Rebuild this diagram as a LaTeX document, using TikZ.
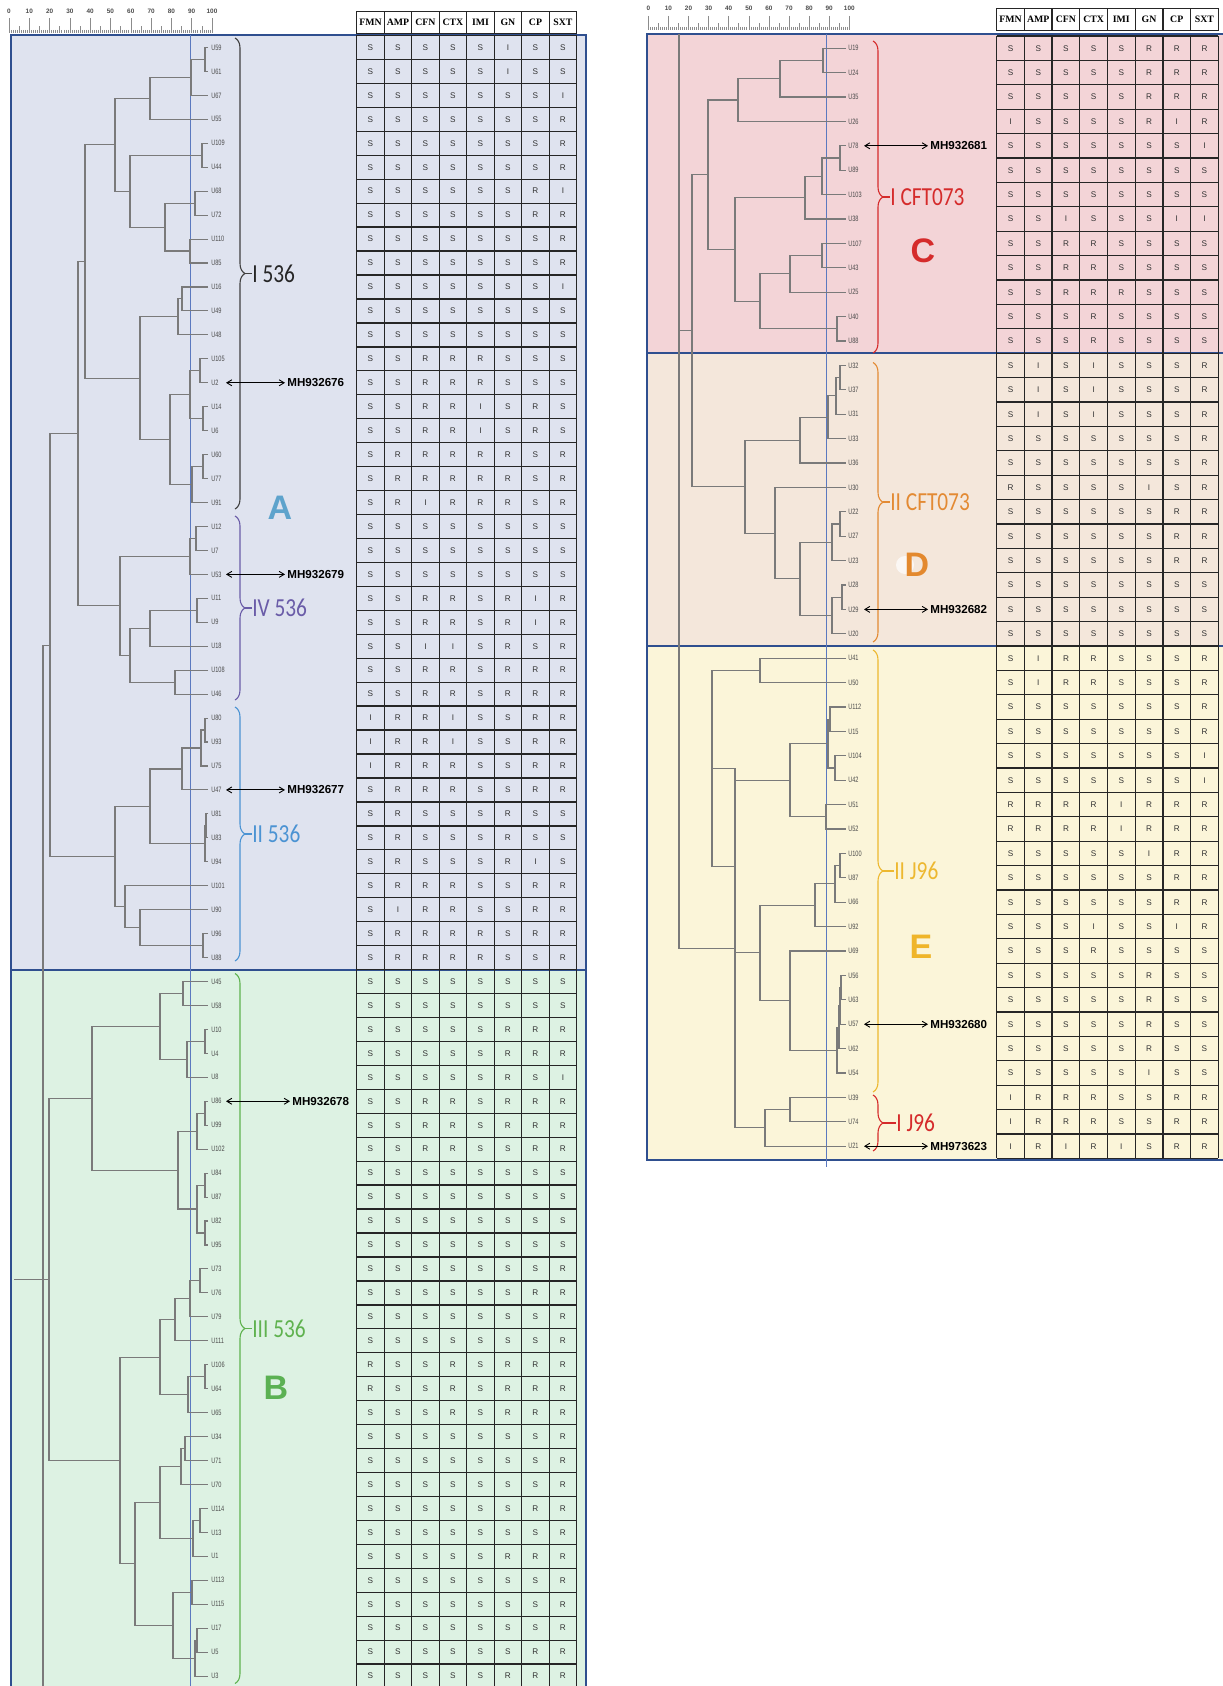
\documentclass[tikz,border=0pt]{standalone}
\usepackage{fontspec}
\setmainfont{Liberation Serif}
\setsansfont{Liberation Sans}
\newfontfamily\calib{Carlito}
\usetikzlibrary{decorations.pathreplacing,arrows.meta,calc}
\definecolor{bgA}{HTML}{DFE3EF}
\definecolor{bgB}{HTML}{DDF2E3}
\definecolor{bgC}{HTML}{F3D4D7}
\definecolor{bgD}{HTML}{F4E7DB}
\definecolor{bgE}{HTML}{FBF5D9}
\definecolor{frame}{HTML}{2F4F8F}
\definecolor{vline}{HTML}{5B79BF}
\definecolor{dgray}{HTML}{7A7A7A}
\definecolor{cA}{HTML}{5EA3CC}
\definecolor{cB}{HTML}{5BB153}
\definecolor{cC}{HTML}{D52B2B}
\definecolor{cD}{HTML}{E3892E}
\definecolor{cE}{HTML}{EFB52A}
\definecolor{cIV}{HTML}{6A5CA8}
\definecolor{cII}{HTML}{4B93D3}
\definecolor{cIII}{HTML}{5FB24F}
\definecolor{cIIc}{HTML}{E38A33}
\definecolor{cIIj}{HTML}{EDB830}
\newcommand\tabx{0}\newcommand\taby{0}\newcommand\tabn{}\newcommand\cw{27.5}
\newcommand\trow[4]{\def\tabx{#1}\def\taby{#2}\def\tabn{#3}\expandafter\tcells#4}
\newcommand\tcells[8]{%
 \node[tcell] (\tabn-1) at ({\tabx+0.5*\cw},\taby) {#1};
 \node[tcell] (\tabn-2) at ({\tabx+1.5*\cw},\taby) {#2};
 \node[tcell] (\tabn-3) at ({\tabx+2.5*\cw},\taby) {#3};
 \node[tcell] (\tabn-4) at ({\tabx+3.5*\cw},\taby) {#4};
 \node[tcell] (\tabn-5) at ({\tabx+4.5*\cw},\taby) {#5};
 \node[tcell] (\tabn-6) at ({\tabx+5.5*\cw},\taby) {#6};
 \node[tcell] (\tabn-7) at ({\tabx+6.5*\cw},\taby) {#7};
 \node[tcell] (\tabn-8) at ({\tabx+7.5*\cw},\taby) {#8};}
\newcommand\jn[4]{\path let \p1=(#3), \p2=(#4) in coordinate (#1) at ({0.5pt*#2},{0.5*\y1+0.5*\y2});
 \draw[dend] (#3) -| (#1) |- (#4);}
\begin{document}
\begin{tikzpicture}[x=0.5pt,y=-0.5pt,
 tcell/.style={font=\sffamily\fontsize{4.1}{5}\selectfont, text=black!80, inner sep=0},
 hdr/.style={font=\bfseries\fontsize{4.9}{5}\selectfont, inner sep=0},
 tgrid/.style={line width=0.65pt, draw=black!85},
 panel/.style={line width=1pt, draw=frame},
 dend/.style={line width=0.55pt, draw=dgray},
 leafl/.style={font=\sffamily\fontsize{3.9}{4.5}\selectfont, text=black!70, anchor=west, inner sep=0, xscale=0.72},
 mh/.style={font=\sffamily\bfseries\fontsize{5.8}{6}\selectfont, anchor=west, inner sep=1pt},
 dbl/.style={{Straight Barb[length=2.5pt,width=3pt]}-{Straight Barb[length=2.5pt,width=3pt]}, line width=0.45pt},
 cbrace/.style={decorate, decoration={brace, amplitude=5pt}, draw=#1, line width=0.55pt},
 blab/.style={font=\calib\fontsize{13}{15}\selectfont, anchor=west, inner sep=0, xscale=0.82},
 bigl/.style={font=\sffamily\bfseries\fontsize{17}{20}\selectfont, inner sep=0},
 stick/.style={line width=0.3pt, draw=black!45},
 sclab/.style={font=\sffamily\bfseries\fontsize{3.2}{4}\selectfont, text=black!70, inner sep=0},
 vl/.style={line width=0.5pt, draw=vline}]
\useasboundingbox (0,0) rectangle (1222,1686);
\fill[white] (0,0) rectangle (1222,1686);
% panels
\draw[panel, fill=bgA] (11,35) rectangle (586,969.6);
\draw[panel, fill=bgB] (11,969.6) rectangle (586,1692);
\draw[panel, fill=bgC] (647,34.5) rectangle (1225,353.2);
\draw[panel, fill=bgD] (647,353.2) rectangle (1225,646);
\draw[panel, fill=bgE] (647,646) rectangle (1225,1159.5);
% scale bars
\foreach \k in {0,...,100} \draw[stick] ({9+2.03*\k},30) -- ({9+2.03*\k},33);
\foreach \k in {0,5,...,100} \draw[stick] ({9+2.03*\k},26.5) -- ({9+2.03*\k},33);
\foreach \k [count=\j] in {0,10,...,100} {\draw[stick] ({9+2.03*\k},18.5) -- ({9+2.03*\k},33);
  \node[sclab] (sl\j) at ({9+2.03*\k},11) {\k};}
\foreach \k in {0,...,100} \draw[stick] ({648.3+2.01*\k},27) -- ({648.3+2.01*\k},30);
\foreach \k in {0,5,...,100} \draw[stick] ({648.3+2.01*\k},23.5) -- ({648.3+2.01*\k},30);
\foreach \k [count=\j] in {0,10,...,100} {\draw[stick] ({648.3+2.01*\k},16) -- ({648.3+2.01*\k},30);
  \node[sclab] (sr\j) at ({648.3+2.01*\k},8.6) {\k};}
% left table header
\draw[tgrid, fill=white] (356.7,11.7) rectangle (576.7,33.3);
\foreach \k in {1,...,7} \draw[tgrid] ({356.7+27.5*\k},11.7) -- ({356.7+27.5*\k},33.3);
\foreach \h [count=\k] in {FMN,AMP,CFN,CTX,IMI,GN,CP,SXT}
  \node[hdr] (hl\k) at ({356.7+27.5*(\k-0.5)},22.5) {\h};
% right table header
\draw[tgrid, fill=white] (996.7,8.3) rectangle (1218.3,30.5);
\foreach \k in {1,...,7} \draw[tgrid] ({996.7+27.7*\k},8.3) -- ({996.7+27.7*\k},30.5);
\foreach \h [count=\k] in {FMN,AMP,CFN,CTX,IMI,GN,CP,SXT}
  \node[hdr] (hr\k) at ({996.7+27.7*(\k-0.5)},19.4) {\h};
% left table grid
\foreach \k in {0,...,69} \draw[tgrid] (356.7,{35.5+23.95*\k}) -- (576.7,{35.5+23.95*\k});
\foreach \k in {0,...,8} \draw[tgrid] ({356.7+27.5*\k},35.5) -- ({356.7+27.5*\k},1690);
% right table grid
\foreach \k in {0,...,46} \draw[tgrid] (996.7,{36+24.4*\k}) -- (1218.3,{36+24.4*\k});
\foreach \k in {0,...,8} \draw[tgrid] ({996.7+27.7*\k},36) -- ({996.7+27.7*\k},1158.4);
% left table data
\renewcommand\cw{27.5}
\foreach \r [count=\i] in {SSSSSISS,SSSSSISS,SSSSSSSI,SSSSSSSR,SSSSSSSR,SSSSSSSR,SSSSSSRI,SSSSSSRR,SSSSSSSR,SSSSSSSR,
 SSSSSSSI,SSSSSSSS,SSSSSSSS,SSRRRSSS,SSRRRSSS,SSRRISRS,SSRRISRS,SRRRRRSR,SRRRRRSR,SRIRRRSR,
 SSSSSSSS,SSSSSSSS,SSSSSSSS,SSRRSRIR,SSRRSRIR,SSIISRSR,SSRRSRRR,SSRRSRRR,IRRISSRR,IRRISSRR,
 IRRRSSRR,SRRRSSRR,SRSSSRSS,SRSSSRSS,SRSSSRIS,SRRRSSRR,SIRRSSRR,SRRRRSRR,SRRRRSSR,
 SSSSSSSS,SSSSSSSS,SSSSSRRR,SSSSSRRR,SSSSSRSI,SSRRSRRR,SSRRSRRR,SSRRSSRR,SSSSSSSS,SSSSSSSS,
 SSSSSSSS,SSSSSSSS,SSSSSSSR,SSSSSSRR,SSSSSSSR,SSSSSSSR,RSSRSRRR,RSSRSRRR,SSSRSRRR,SSSSSSSR,
 SSSSSSSR,SSSSSSSR,SSSSSSRR,SSSSSSSR,SSSSSRRR,SSSSSSSR,SSSSSSSR,SSSSSSSR,SSSSSSRR,SSSSSRRR}
 {\trow{356.7}{23.5+23.95*\i}{L\i}{\r}}
% right table data
\renewcommand\cw{27.7}
\foreach \r [count=\i] in {SSSSSRRR,SSSSSRRR,SSSSSRRR,ISSSSRIR,SSSSSSSI,SSSSSSSS,SSSSSSSS,SSISSSII,SSRRSSSS,SSRRSSSS,
 SSRRRSSS,SSSRSSSS,SSSRSSSS,
 SISISSSR,SISISSSR,SISISSSR,SSSSSSSR,SSSSSSSR,RSSSSISR,SSSSSSRR,SSSSSSRR,SSSSSSRR,SSSSSSSS,SSSSSSSS,SSSSSSSS,
 SIRRSSSR,SIRRSSSR,SSSSSSSR,SSSSSSSR,SSSSSSSI,SSSSSSSI,RRRRIRRR,RRRRIRRR,SSSSSIRR,SSSSSSRR,
 SSSSSSRR,SSSISSIR,SSSRSSSS,SSSSSRSS,SSSSSRSS,SSSSSRSS,SSSSSRSS,SSSSSISS,IRRRSSRR,IRRRSSRR,IRIRISRR}
 {\trow{996.7}{23.8+24.4*\i}{R\i}{\r}}
% blue reference lines
\draw[vl] (190,35) -- (190,1686);
\draw[vl] (826.7,34.5) -- (826.7,1167);
% left leaves
\foreach \nm [count=\i] in {U59,U61,U67,U55,U109,U44,U68,U72,U110,U85,U16,U49,U48,U105,U2,U14,U6,U60,U77,U91,
 U12,U7,U53,U11,U9,U18,U108,U46,U80,U93,U75,U47,U81,U83,U94,U101,U90,U96,U88,
 U45,U58,U10,U4,U8,U86,U99,U102,U84,U87,U82,U95,U73,U76,U79,U111,U106,U64,U65,U34,U71,U70,U114,U13,U1,U113,U115,U17,U5,U3}
 {\coordinate (la\i) at (208,{23.5+23.95*\i}); \node[leafl] (lt\i) at (211,{23.5+23.95*\i}) {\nm};}
% right leaves
\foreach \nm [count=\i] in {U19,U24,U35,U26,U78,U89,U103,U38,U107,U43,U25,U40,U88,
 U32,U37,U31,U33,U36,U30,U22,U27,U23,U28,U29,U20,
 U41,U50,U112,U15,U104,U42,U51,U52,U100,U87,U66,U92,U69,U56,U63,U57,U62,U54,U39,U74,U21}
 {\coordinate (ra\i) at (846,{23.8+24.4*\i}); \node[leafl] (rt\i) at (848,{23.8+24.4*\i}) {\nm};}
% left dendrogram: I 536
\jn{a1}{205}{la1}{la2}
\jn{a2}{191}{a1}{la3}
\jn{a3}{150}{a2}{la4}
\jn{a4}{202}{la5}{la6}
\jn{a5}{195}{la7}{la8}
\jn{a6}{190}{la9}{la10}
\jn{a7}{165}{a5}{a6}
\jn{a8}{130}{a4}{a7}
\jn{a9}{115}{a3}{a8}
\jn{b1}{182}{la11}{la12}
\jn{b2}{178}{b1}{la13}
\jn{b3}{200}{la14}{la15}
\jn{b4}{203}{la16}{la17}
\jn{b5}{190}{b3}{b4}
\jn{b6}{203}{la18}{la19}
\jn{b7}{192}{b6}{la20}
\jn{b8}{170}{b5}{b7}
\jn{b9}{140}{b2}{b8}
\jn{g1}{85}{a9}{b9}
% IV 536
\jn{c1}{196}{la21}{la22}
\jn{c2}{190}{c1}{la23}
\jn{c3}{197}{la24}{la25}
\jn{c4}{150}{c3}{la26}
\jn{c5}{175}{la27}{la28}
\jn{c6}{130}{c4}{c5}
\jn{c7}{120}{c2}{c6}
% II 536
\jn{d1}{205}{la29}{la30}
\jn{d2}{201}{d1}{la31}
\jn{d3}{182}{d2}{la32}
\jn{d4}{206}{la33}{la34}
\jn{d5}{205}{d4}{la35}
\jn{d6}{203}{la38}{la39}
\jn{d7}{140}{la37}{d6}
\jn{d8}{125}{la36}{d7}
\jn{d9}{150}{d3}{d5}
\jn{d10}{115}{d9}{d8}
\jn{g2}{78}{g1}{c7}
\jn{gA}{50}{g2}{d10}
% B
\jn{e1}{183}{la40}{la41}
\jn{e2}{205}{la42}{la43}
\jn{e3}{187}{e2}{la44}
\jn{e4}{160}{e1}{e3}
\jn{e5}{205}{la45}{la46}
\jn{e6}{197}{e5}{la47}
\jn{e7}{205}{la48}{la49}
\jn{e8}{205}{la50}{la51}
\jn{e9}{197}{e7}{e8}
\jn{e10}{178}{e6}{e9}
\jn{e11}{92}{e4}{e10}
\jn{f1}{200}{la52}{la53}
\jn{f2}{190}{f1}{la54}
\jn{f3}{175}{f2}{la55}
\jn{f4}{205}{la56}{la57}
\jn{f5}{188}{f4}{la58}
\jn{f6}{160}{f3}{f5}
\jn{f7}{185}{la59}{la60}
\jn{f8}{181}{f7}{la61}
\jn{f9}{200}{la62}{la63}
\jn{f10}{193}{f9}{la64}
\jn{f11}{160}{f8}{f10}
\jn{f12}{192}{la65}{la66}
\jn{f13}{197}{la67}{la68}
\jn{f14}{195}{f13}{la69}
\jn{f15}{173}{f12}{f14}
\jn{f16}{135}{f11}{f15}
\jn{f17}{120}{f6}{f16}
\jn{gB}{49}{e11}{f17}
\coordinate (rootL) at (43,1690);
\coordinate (stubL) at (14,0);
\draw[dend] (gA) -| (rootL);
\draw[dend] (gB) -- (gB -| stubL);
% right dendrogram: C
\jn{p1}{823}{ra1}{ra2}
\jn{p2}{780}{p1}{ra3}
\jn{p3}{738}{p2}{ra4}
\jn{p4}{840}{ra5}{ra6}
\jn{p5}{822}{p4}{ra7}
\jn{p6}{805}{p5}{ra8}
\jn{p7}{822}{ra9}{ra10}
\jn{p8}{790}{p7}{ra11}
\jn{p9}{837}{ra12}{ra13}
\jn{p10}{760}{p8}{p9}
\jn{p11}{735}{p6}{p10}
\jn{p12}{708}{p3}{p11}
% D
\jn{q1}{840}{ra14}{ra15}
\jn{q2}{836}{q1}{ra16}
\jn{q3}{828}{q2}{ra17}
\jn{q4}{800}{q3}{ra18}
\jn{q5}{840}{ra20}{ra21}
\jn{q6}{832}{q5}{ra22}
\jn{q7}{842}{ra23}{ra24}
\jn{q8}{832}{q7}{ra25}
\jn{q9}{800}{q6}{q8}
\jn{q10}{775}{ra19}{q9}
\jn{q11}{745}{q4}{q10}
\jn{pq}{692}{p12}{q11}
% E
\jn{s1}{760}{ra26}{ra27}
\jn{s2}{830}{ra28}{ra29}
\jn{s3}{835}{ra30}{ra31}
\jn{s4}{828}{s2}{s3}
\jn{s5}{826}{ra32}{ra33}
\jn{s6}{790}{s4}{s5}
\jn{s7}{840}{ra34}{ra35}
\jn{s8}{835}{s7}{ra36}
\jn{s9}{815}{s8}{ra37}
\jn{s10}{841}{ra39}{ra40}
\jn{s11}{840}{s10}{ra41}
\jn{s12}{839}{s11}{ra42}
\jn{s13}{837}{s12}{ra43}
\jn{s14}{790}{ra38}{s13}
\jn{s15}{760}{s9}{s14}
\jn{s16}{735}{s6}{s15}
\jn{s17}{712}{s1}{s16}
\jn{s18}{790}{ra44}{ra45}
\jn{s19}{765}{s18}{ra46}
\jn{s20}{735}{s17}{s19}
\jn{rootR}{679}{pq}{s20}
\coordinate (rtop) at (679,34.5);
\draw[dend] (rootR) -- (rtop);
% braces left
\draw[cbrace=black!75] (235,38) -- (235,509);
\draw[cbrace=cIV] (235,516) -- (235,700);
\draw[cbrace=cII] (235,707) -- (235,961);
\draw[cbrace=cIII] (235,973.5) -- (235,1683.5);
\node[blab, text=black!85] (bI) at (252,273.5) {I 536};
\node[blab, text=cIV] (bIV) at (252,608) {IV 536};
\node[blab, text=cII] (bII) at (252,834) {II 536};
\node[blab, text=cIII] (bIII) at (252,1328.5) {III 536};
\draw[black!75, line width=0.55pt] (245,273.5) -- (bI.west);
\draw[cIV, line width=0.55pt] (245,608) -- (bIV.west);
\draw[cII, line width=0.55pt] (245,834) -- (bII.west);
\draw[cIII, line width=0.55pt] (245,1328.5) -- (bIII.west);
% braces right
\draw[cbrace=cC] (873,41) -- (873,353);
\draw[cbrace=cIIc] (873,362.5) -- (873,642);
\draw[cbrace=cIIj] (873,650) -- (873,1092);
\draw[cbrace=cC] (873,1095) -- (873,1151);
\node[blab, text=cC] (bIc) at (890,197) {I CFT073};
\node[blab, text=cIIc] (bIIc) at (890,502) {II CFT073};
\node[blab, text=cIIj] (bIIj) at (894,871) {II J96};
\node[blab, text=cC] (bIj) at (896,1123) {I J96};
\draw[cC, line width=0.55pt] (883,197) -- (bIc.west);
\draw[cIIc, line width=0.55pt] (883,502) -- (bIIc.west);
\draw[cIIj, line width=0.55pt] (883,871) -- (bIIj.west);
\draw[cC, line width=0.55pt] (883,1123) -- (bIj.west);
% big letters
\node[bigl, text=cA] (LA) at (280,508) {A};
\node[bigl, text=cB] (LB) at (276,1388) {B};
\node[bigl, text=cC] (LC) at (923,251) {C};
\fill[white, opacity=0.7] (905,565) circle (9);
\node[bigl, text=cD] (LD) at (917,565) {D};
\node[bigl, text=cE] (LE) at (921,947) {E};
% accession arrows left
\coordinate (ar1) at (226,{23.5+23.95*15}); \node[mh] (mh1) at (285,{23.5+23.95*15}) {MH932676};
\coordinate (ar2) at (226,{23.5+23.95*23}); \node[mh] (mh2) at (285,{23.5+23.95*23}) {MH932679};
\coordinate (ar3) at (226,{23.5+23.95*32}); \node[mh] (mh3) at (285,{23.5+23.95*32}) {MH932677};
\coordinate (ar4) at (226,{23.5+23.95*45}); \node[mh] (mh4) at (290,{23.5+23.95*45}) {MH932678};
\draw[dbl] (ar1) -- (mh1.west);
\draw[dbl] (ar2) -- (mh2.west);
\draw[dbl] (ar3) -- (mh3.west);
\draw[dbl] (ar4) -- (mh4.west);
% accession arrows right
\coordinate (ar5) at (864,{23.8+24.4*5}); \node[mh] (mh5) at (928,{23.8+24.4*5}) {MH932681};
\coordinate (ar6) at (864,{23.8+24.4*24}); \node[mh] (mh6) at (928,{23.8+24.4*24}) {MH932682};
\coordinate (ar7) at (864,{23.8+24.4*41}); \node[mh] (mh7) at (928,{23.8+24.4*41}) {MH932680};
\coordinate (ar8) at (864,{23.8+24.4*46}); \node[mh] (mh8) at (928,{23.8+24.4*46}) {MH973623};
\draw[dbl] (ar5) -- (mh5.west);
\draw[dbl] (ar6) -- (mh6.west);
\draw[dbl] (ar7) -- (mh7.west);
\draw[dbl] (ar8) -- (mh8.west);
\end{tikzpicture}
\end{document}
